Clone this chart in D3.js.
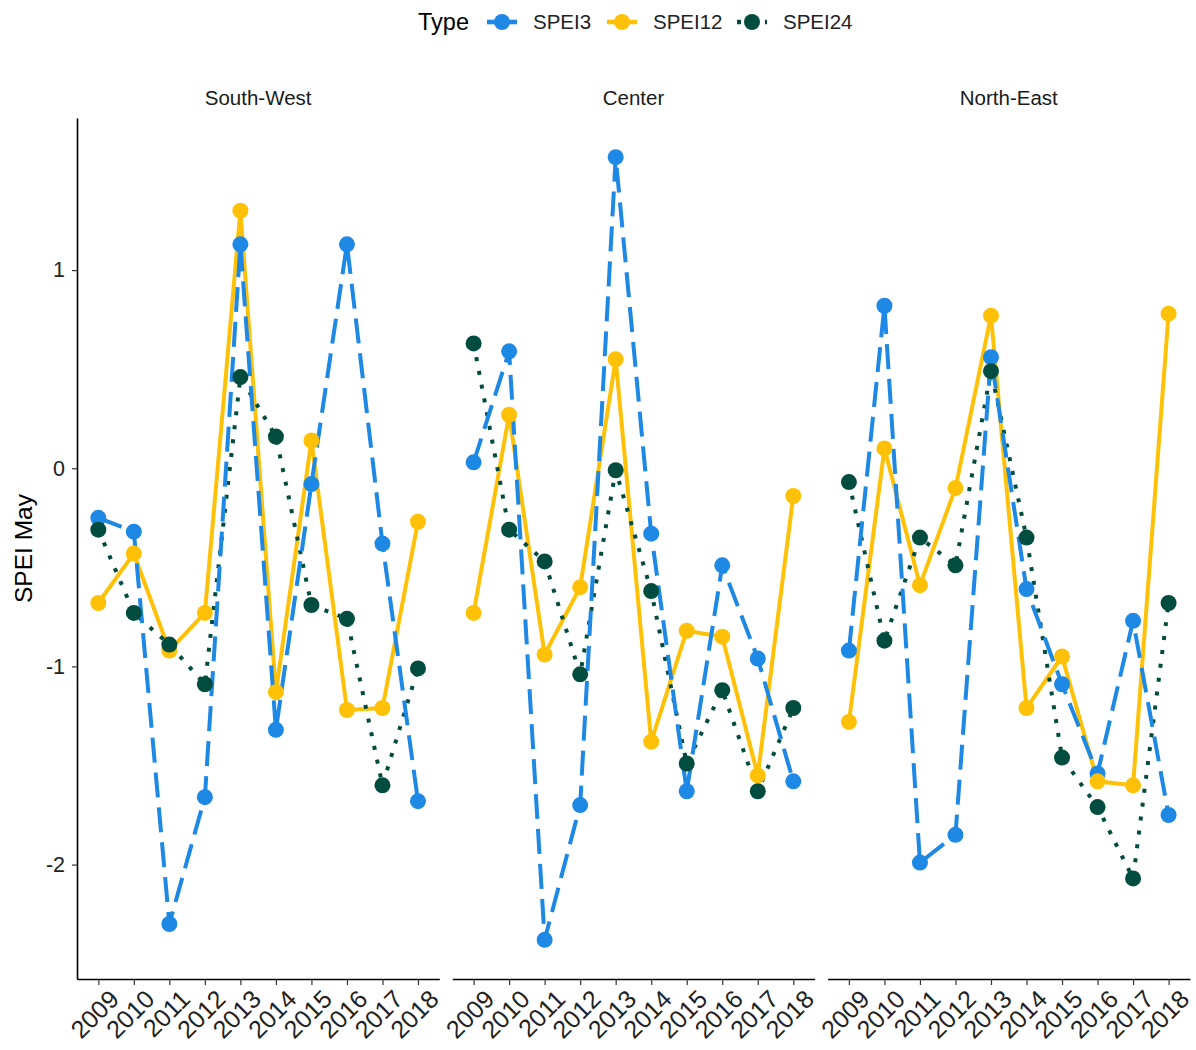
<!DOCTYPE html>
<html>
<head>
<meta charset="utf-8">
<script src="https://cdn.jsdelivr.net/npm/d3@7"></script>
<style>
  body { margin: 0; background: #fff; }
  text { font-family: "Liberation Sans", Arial, Helvetica, sans-serif; }
</style>
</head>
<body>
<div id="chart"></div>
<script>
// Data
const years = [2009, 2010, 2011, 2012, 2013, 2014, 2015, 2016, 2017, 2018];
const regions = ["South-West", "Center", "North-East"];
const types = ["SPEI3", "SPEI12", "SPEI24"];
const yTicks = [-2, -1, 0, 1];

const swSpei3 = [-0.25, -0.32, -2.30, -1.66, 1.13, -1.32, -0.08, 1.13, -0.38, -1.68];
const swSpei12 = [-0.68, -0.43, -0.92, -0.73, 1.30, -1.13, 0.14, -1.22, -1.21, -0.27];
const swSpei24 = [-0.31, -0.73, -0.89, -1.09, 0.46, 0.16, -0.69, -0.76, -1.60, -1.01];

const centerSpei3 = [0.03, 0.59, -2.38, -1.70, 1.57, -0.33, -1.63, -0.49, -0.96, -1.58];
const centerSpei12 = [-0.73, 0.27, -0.94, -0.60, 0.55, -1.38, -0.82, -0.85, -1.55, -0.14];
const centerSpei24 = [0.63, -0.31, -0.47, -1.04, -0.01, -0.62, -1.49, -1.12, -1.63, -1.21];

const neSpei3 = [-0.92, 0.82, -1.99, -1.85, 0.56, -0.61, -1.09, -1.54, -0.77, -1.75];
const neSpei12 = [-1.28, 0.10, -0.59, -0.10, 0.77, -1.21, -0.95, -1.58, -1.60, 0.78];
const neSpei24 = [-0.07, -0.87, -0.35, -0.49, 0.49, -0.35, -1.46, -1.71, -2.07, -0.68];

const seriesByRegion = {
    "South-West": { SPEI3: swSpei3, SPEI12: swSpei12, SPEI24: swSpei24 },
    "Center": { SPEI3: centerSpei3, SPEI12: centerSpei12, SPEI24: centerSpei24 },
    "North-East": { SPEI3: neSpei3, SPEI12: neSpei12, SPEI24: neSpei24 }
};

// Styles per type
const color = d3.scaleOrdinal().domain(types).range(["#1E88E5", "#FFC107", "#004D40"]);
const dash = d3.scaleOrdinal().domain(types).range(["25,10", "none", "4,10"]);
const lineWidth = 4;
const pointRadius = 8;
const smallFont = "20.5px";
const titleFont = "24.5px";

// Layout
const W = 1196, H = 1050;
const margin = { top: 118, left: 77 };
const panelW = 362.3, panelGap = 13;
const panelH = 979 - margin.top;

const svg = d3.select("#chart")
    .append("svg")
    .attr("width", W)
    .attr("height", H);

// Shared y scale (fixed scales, 5% expansion like ggplot)
const allValues = regions.flatMap(r => types.flatMap(t => seriesByRegion[r][t]));
const yMin = d3.min(allValues), yMax = d3.max(allValues);
const yPad = (yMax - yMin) * 0.05;
const y = d3.scaleLinear()
    .domain([yMin - yPad, yMax + yPad])
    .range([panelH, 0]);

const x = d3.scalePoint()
    .domain(years)
    .range([0, panelW])
    .padding(0.6);

regions.forEach((region, i) => {
    const g = svg.append("g")
        .attr("transform", `translate(${margin.left + i * (panelW + panelGap)},${margin.top})`);

    // Strip label
    g.append("text")
        .attr("x", panelW / 2)
        .attr("y", -13)
        .attr("text-anchor", "middle")
        .style("font-size", smallFont)
        .style("fill", "#1a1a1a")
        .text(region);

    // x axis
    const xAxis = g.append("g")
        .attr("transform", `translate(0,${panelH})`)
        .call(d3.axisBottom(x).tickSize(6).tickSizeOuter(0));
    xAxis.select(".domain").attr("stroke", "#000").attr("stroke-width", 1.6);
    xAxis.selectAll(".tick line").attr("stroke", "#333").attr("stroke-width", 1.2);
    xAxis.selectAll(".tick text")
        .attr("transform", "translate(9,9) rotate(-45)")
        .attr("text-anchor", "end")
        .attr("dy", "0.72em")
        .attr("x", 0)
        .attr("y", 0)
        .style("font-size", "25px")
        .style("fill", "#222");

    // y axis only on first panel
    if (i === 0) {
        const yAxis = g.append("g")
            .call(d3.axisLeft(y).tickValues(yTicks).tickFormat(d => String(d)).tickSize(5).tickSizeOuter(0));
        yAxis.select(".domain").attr("stroke", "#000").attr("stroke-width", 1.6);
        yAxis.selectAll(".tick line").attr("stroke", "#333").attr("stroke-width", 1.2);
        yAxis.selectAll(".tick text")
            .attr("x", -12)
            .style("font-size", "21.5px")
            .style("fill", "#222");
    }

    const line = d3.line()
        .x((d, k) => x(years[k]))
        .y(d => y(d));

    // Lines
    ["SPEI12", "SPEI24", "SPEI3"].forEach(t => {
        g.append("path")
            .datum(seriesByRegion[region][t])
            .attr("fill", "none")
            .attr("stroke", color(t))
            .attr("stroke-width", lineWidth)
            .attr("stroke-dasharray", dash(t))
            .attr("d", line);
    });

    // Points
    types.forEach(t => {
        g.selectAll(null)
            .data(seriesByRegion[region][t])
            .enter()
            .append("circle")
            .attr("cx", (d, k) => x(years[k]))
            .attr("cy", d => y(d))
            .attr("r", pointRadius)
            .attr("fill", color(t));
    });
});

// y-axis title
svg.append("text")
    .attr("transform", `translate(32,${margin.top + panelH / 2}) rotate(-90)`)
    .attr("text-anchor", "middle")
    .style("font-size", titleFont)
    .style("fill", "#000")
    .text("SPEI May");

// Legend
const legend = svg.append("g");
legend.append("text")
    .attr("x", 418)
    .attr("y", 30)
    .style("font-size", "23.5px")
    .style("fill", "#000")
    .text("Type");

const legendKeyX = [487, 607, 737];
types.forEach((t, k) => {
    const kx = legendKeyX[k];
    legend.append("line")
        .attr("x1", kx)
        .attr("x2", kx + 30)
        .attr("y1", 22)
        .attr("y2", 22)
        .attr("stroke", color(t))
        .attr("stroke-width", lineWidth + 0.6)
        .attr("stroke-dasharray", t === "SPEI24" ? "4,10" : "none");
    legend.append("circle")
        .attr("cx", kx + 15)
        .attr("cy", 22)
        .attr("r", pointRadius)
        .attr("fill", color(t));
    legend.append("text")
        .attr("x", kx + 46)
        .attr("y", 29)
        .style("font-size", smallFont)
        .style("fill", "#222")
        .text(t);
});
</script>
</body>
</html>
